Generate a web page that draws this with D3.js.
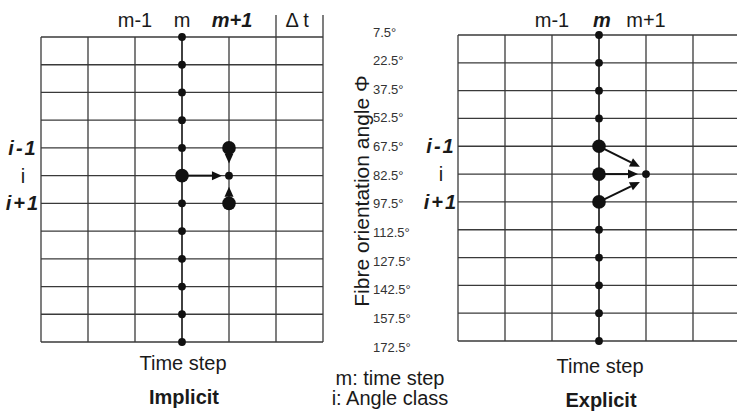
<!DOCTYPE html>
<html><head><meta charset="utf-8">
<script src="https://cdn.jsdelivr.net/npm/d3@7"></script>
<style>
html,body{margin:0;padding:0;background:#fff;}
svg{display:block;font-family:"Liberation Sans",Arial,sans-serif;}
</style></head>
<body>
<script>
// ---- data ----
const angleLabels = ["7.5°","22.5°","37.5°","52.5°","67.5°","82.5°","97.5°","112.5°","127.5°","142.5°","157.5°","172.5°"];
const rowLabels = ["i-1","i","i+1"];
const rowLabelRows = [4,5,6];
const implicitTop = [{t:"m-1",c:2,b:false},{t:"m",c:3,b:false},{t:"m+1",c:4,b:true},{t:"Δ t",c:5.45,b:false}];
const explicitTop = [{t:"m-1",c:2,b:false},{t:"m",c:3,b:true},{t:"m+1",c:4,b:false}];
const nCols = 6;               // column intervals
const nRows = 11;              // row intervals (12 angle classes)
// dots: [column, row, size] size: 0 small, 1 large
const implicitDots = [[3,0,0],[3,1,0],[3,2,0],[3,3,0],[3,4,0],[3,5,1],[3,6,0],[3,7,0],[3,8,0],[3,9,0],[3,10,0],[3,11,0],[4,4,1],[4,5,0],[4,6,1]];
const explicitDots = [[3,0,0],[3,1,0],[3,2,0],[3,3,0],[3,4,1],[3,5,1],[3,6,1],[3,7,0],[3,8,0],[3,9,0],[3,10,0],[3,11,0],[4,5,0]];
// arrows: [fromCol, fromRow, toCol, toRow]
const implicitArrows = [[3,5,3.85,5],[4,4,4,4.56],[4,6,4,5.4]];
const explicitArrows = [[3,4,3.87,4.74],[3,5,3.83,5],[3,6,3.87,5.28]];

const W=737,H=413;
const svg = d3.select("body").append("svg").attr("width",W).attr("height",H);
const defs = svg.append("defs");

function panel(opt){
  const x = d3.scaleLinear().domain([0,nCols]).range(opt.xr);
  const y = d3.scaleLinear().domain([0,nRows]).range(opt.yr);
  const g = svg.append("g");
  // horizontal grid lines
  g.selectAll(".h").data(d3.range(nRows+1)).join("line")
    .attr("x1",x(0)).attr("x2",x(nCols)).attr("y1",d=>y(d)).attr("y2",d=>y(d))
    .attr("stroke","#3a3a3a").attr("stroke-width",1.3);
  // vertical grid lines
  g.selectAll(".v").data(d3.range(nCols+1)).join("line")
    .attr("x1",d=>x(d)).attr("x2",d=>x(d))
    .attr("y1",d=>opt.extend.includes(d)?opt.extTop:y(0)).attr("y2",y(nRows))
    .attr("stroke",d=>d===3?"#111":"#3a3a3a").attr("stroke-width",d=>d===3?1.6:1.3);
  // top labels
  g.selectAll(".tl").data(opt.top).join("text")
    .attr("x",d=>x(d.c)+(d.b?3:0)).attr("y",27).attr("text-anchor","middle")
    .attr("font-size",20).attr("fill","#1a1a1a")
    .attr("font-weight",d=>d.b?"bold":"normal").attr("font-style",d=>d.b?"italic":"normal")
    .text(d=>d.t);
  // row labels
  g.selectAll(".rl").data(rowLabels).join("text")
    .attr("x",opt.rowX).attr("y",(d,i)=>y(rowLabelRows[i])+7).attr("text-anchor","middle")
    .attr("font-size",20).attr("fill","#1a1a1a")
    .attr("font-weight",d=>d==="i"?"normal":"bold").attr("font-style",d=>d==="i"?"normal":"italic")
    .attr("letter-spacing",d=>d==="i"?0:2)
    .text(d=>d);
  // arrows
  opt.arrows.forEach(a=>{
    const x1=x(a[0]),y1=y(a[1]),x2=x(a[2]),y2=y(a[3]);
    const ang=Math.atan2(y2-y1,x2-x1), L=10, Wd=4.5;
    const bx=x2-L*Math.cos(ang), by=y2-L*Math.sin(ang);
    g.append("line").attr("x1",x1).attr("y1",y1).attr("x2",bx).attr("y2",by)
      .attr("stroke","#111").attr("stroke-width",2);
    g.append("path").attr("d",d3.line()([[x2,y2],[bx+Wd*Math.sin(ang),by-Wd*Math.cos(ang)],[bx-Wd*Math.sin(ang),by+Wd*Math.cos(ang)]])+"Z")
      .attr("fill","#111");
  });
  // dots
  g.selectAll(".dot").data(opt.dots).join("circle")
    .attr("cx",d=>x(d[0])).attr("cy",d=>y(d[1])).attr("r",d=>d[2]?6.8:3.9).attr("fill","#111");
  // x title
  g.append("text").attr("x",x(3)+1).attr("y",opt.tsY).attr("text-anchor","middle")
    .attr("font-size",20).attr("fill","#1a1a1a").text("Time step");
  g.append("text").attr("x",x(3)+2).attr("y",opt.nameY).attr("text-anchor","middle")
    .attr("font-size",20).attr("font-weight","bold").attr("fill","#1a1a1a").text(opt.name);
}

panel({xr:[41,323],yr:[37,342],extend:[5,6],extTop:15,top:implicitTop,rowX:23,
  dots:implicitDots,arrows:implicitArrows,tsY:370,nameY:404,name:"Implicit"});
panel({xr:[458,740],yr:[35,341],extend:[],extTop:35,top:explicitTop,rowX:441,
  dots:explicitDots,arrows:explicitArrows,tsY:373,nameY:407,name:"Explicit"});

// centre: angle class labels
const ya = d3.scaleLinear().domain([0,nRows]).range([32,347]);
svg.append("g").selectAll("text").data(angleLabels).join("text")
  .attr("x",373).attr("y",(d,i)=>ya(i)+4.5).attr("font-size",13).attr("fill","#333")
  .text(d=>d);
svg.append("text").attr("transform","translate(369,191) rotate(-90)")
  .attr("text-anchor","middle").attr("font-size",21).attr("fill","#1a1a1a")
  .text("Fibre orientation angle Φ");
svg.append("text").attr("x",390).attr("y",385).attr("text-anchor","middle")
  .attr("font-size",20).attr("fill","#1a1a1a").text("m: time step");
svg.append("text").attr("x",390).attr("y",405).attr("text-anchor","middle")
  .attr("font-size",20).attr("fill","#1a1a1a").text("i: Angle class");
</script>
</body></html>
